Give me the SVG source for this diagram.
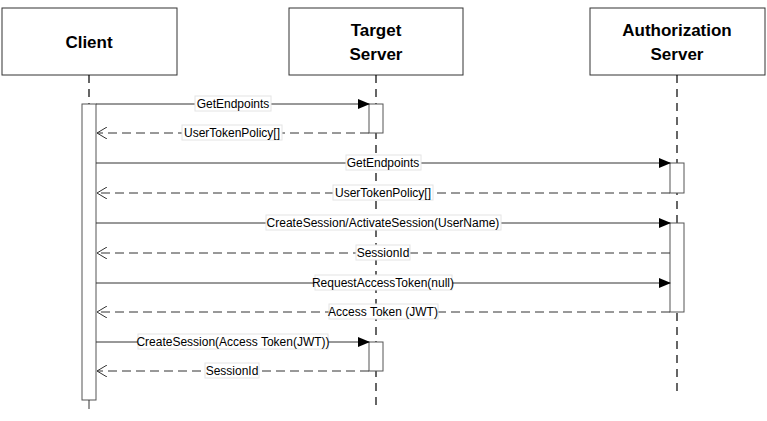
<svg xmlns="http://www.w3.org/2000/svg" width="767" height="421" viewBox="0 0 767 421">
<defs>
<marker id="fill" markerWidth="12" markerHeight="10" refX="11" refY="5" orient="auto" markerUnits="userSpaceOnUse"><path d="M0,0 L12,5 L0,10 Z" fill="#000"/></marker>
<marker id="open" markerWidth="12" markerHeight="12" refX="10" refY="6" orient="auto" markerUnits="userSpaceOnUse"><path d="M0,0 L10,6 L0,12" fill="none" stroke="#333" stroke-width="1"/></marker>
</defs>
<style>
.box{fill:#fff;stroke:#333;stroke-width:1}
.title{font-family:"Liberation Sans",Arial,sans-serif;font-weight:bold;font-size:17px;fill:#000;text-anchor:middle}
.life{stroke:#000;stroke-width:1.2;stroke-dasharray:8,6;fill:none}
.act{fill:#fff;stroke:#555;stroke-width:1}
.call{stroke:#333;stroke-width:1;fill:none}
.ret{stroke:#333;stroke-width:1;fill:none;stroke-dasharray:9,5}
.lbg{fill:#fff;stroke:#e4e4e4;stroke-width:1}
.lbl{font-family:"Liberation Sans",Arial,sans-serif;font-size:12px;fill:#000;text-anchor:middle}
</style>
<rect width="767" height="421" fill="#fff"/>
<g id="client">
<rect class="box" x="2" y="8" width="175" height="67"/>
<text class="title" x="89" y="48">Client</text>
<line class="life" x1="89" y1="75" x2="89" y2="104"/>
<rect class="act" x="82" y="104" width="14" height="296"/>
<line x1="89" y1="400" x2="89" y2="409" stroke="#333"/>
</g>
<g id="target">
<rect class="box" x="289" y="8" width="174" height="67"/>
<text class="title" x="376" y="36">Target</text>
<text class="title" x="376" y="60">Server</text>
<line class="life" x1="376" y1="75" x2="376" y2="410"/>
<rect class="act" x="369" y="104" width="14" height="29"/>
<rect class="act" x="369" y="342" width="14" height="29"/>
</g>
<g id="auth">
<rect class="box" x="590" y="8" width="175" height="67"/>
<text class="title" x="677" y="36">Authorization</text>
<text class="title" x="677" y="60">Server</text>
<line class="life" x1="677" y1="75" x2="677" y2="395"/>
<rect class="act" x="670" y="163" width="14" height="30"/>
<rect class="act" x="670" y="223" width="14" height="89"/>
</g>
<g id="connectors">
<line class="call" x1="96" y1="104" x2="369" y2="104" marker-end="url(#fill)"/>
<line class="ret" x1="369" y1="133" x2="97" y2="133" marker-end="url(#open)"/>
<line class="call" x1="96" y1="163" x2="670" y2="163" marker-end="url(#fill)"/>
<line class="ret" x1="670" y1="193" x2="97" y2="193" marker-end="url(#open)"/>
<line class="call" x1="96" y1="223" x2="670" y2="223" marker-end="url(#fill)"/>
<line class="ret" x1="670" y1="253" x2="97" y2="253" marker-end="url(#open)"/>
<line class="call" x1="96" y1="283" x2="670" y2="283" marker-end="url(#fill)"/>
<line class="ret" x1="670" y1="312" x2="97" y2="312" marker-end="url(#open)"/>
<line class="call" x1="96" y1="342" x2="369" y2="342" marker-end="url(#fill)"/>
<line class="ret" x1="369" y1="371" x2="97" y2="371" marker-end="url(#open)"/>
</g>
<g id="labels">
<rect class="lbg" x="195" y="96" width="76" height="15"/><text class="lbl" x="233" y="108">GetEndpoints</text>
<rect class="lbg" x="182" y="125" width="100" height="15"/><text class="lbl" x="232" y="137">UserTokenPolicy[]</text>
<rect class="lbg" x="346" y="155" width="75" height="15"/><text class="lbl" x="383" y="167">GetEndpoints</text>
<rect class="lbg" x="333" y="185" width="100" height="15"/><text class="lbl" x="383" y="197">UserTokenPolicy[]</text>
<rect class="lbg" x="266" y="215" width="235" height="15"/><text class="lbl" x="383" y="227">CreateSession/ActivateSession(UserName)</text>
<rect class="lbg" x="356" y="245" width="54" height="15"/><text class="lbl" x="383" y="257">SessionId</text>
<rect class="lbg" x="315" y="275" width="137" height="15"/><text class="lbl" x="383" y="287">RequestAccessToken(null)</text>
<rect class="lbg" x="329" y="304" width="109" height="15"/><text class="lbl" x="383" y="316">Access Token (JWT)</text>
<rect class="lbg" x="138" y="334" width="190" height="15"/><text class="lbl" x="233" y="346">CreateSession(Access Token(JWT))</text>
<rect class="lbg" x="205" y="363" width="54" height="15"/><text class="lbl" x="232" y="375">SessionId</text>
</g>
</svg>
